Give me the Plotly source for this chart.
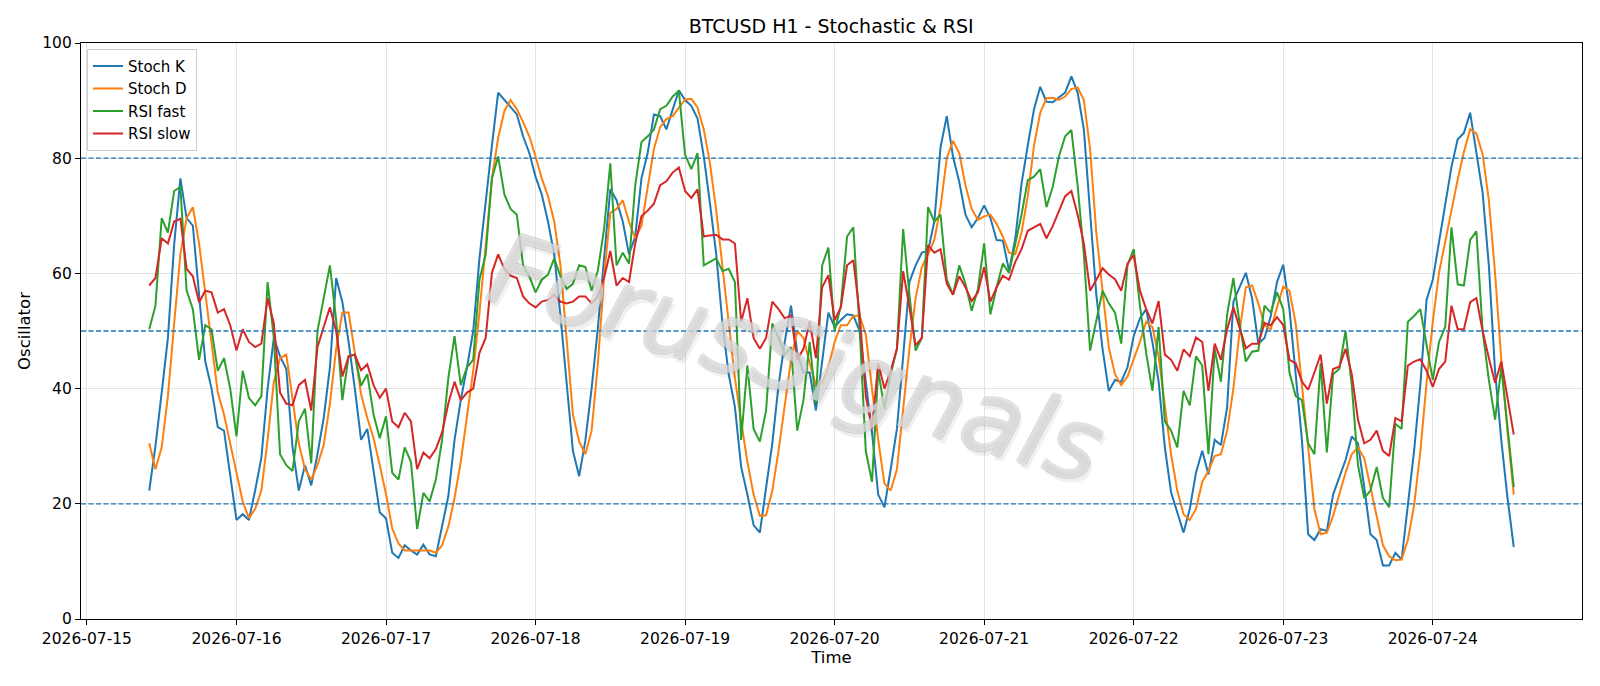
import pandas as pd
import plotly.graph_objects as go

start_time = "2026-07-15 10:00"

stoch_k = [
    22.3, 30, 39.3, 48.8, 65, 76.5, 69.6, 68.3, 56.3, 44.7,
    40, 33.3, 32.7, 24.8, 17.2, 18.2, 17.2, 22.3, 28, 40,
    48.8, 45.6, 43.4, 29.8, 22.3, 26.7, 23.2, 28.6, 34.9, 43.7,
    59.2, 55, 48.1, 40, 31.1, 33, 26, 18.5, 17.5, 11.5,
    10.6, 12.8, 11.9, 11.2, 12.9, 11.2, 10.9, 16, 21.3, 31.1,
    38, 43.7, 50, 62.6, 72.7, 82.2, 91.4, 90.1, 88.8, 87.6,
    83.8, 80.9, 76.8, 73.7, 69, 63.3, 52.6, 40.6, 29.2, 24.8,
    31, 40, 50.5, 62.6, 74.6, 72.7, 69, 63.3, 66.4, 76.5,
    80.9, 87.6, 87.3, 85, 88.2, 91.8, 90.1, 89.1, 86.9, 80.3,
    72.1, 63.3, 51.3, 42.5, 36.8, 26.4, 21.6, 16.3, 15, 22.9,
    30.5, 40.6, 48.1, 54.4, 46.2, 42.8, 42.8, 36.2, 44.5, 53.2,
    50.7, 51.9, 52.9, 52.7, 50, 41.2, 32.4, 21.6, 19.4, 26,
    33, 45.6, 58.5, 61.4, 63.6, 63.9, 69, 81.9, 87.3, 80.3,
    75.9, 70.2, 68, 69.6, 71.8, 69.6, 65.8, 65.7, 60.4, 66.1,
    75.6, 82.2, 88.5, 92.4, 89.8, 89.7, 90.6, 91.4, 94.2, 91.4,
    85, 70.2, 56.3, 46.9, 39.6, 41.5, 41.2, 43.7, 49.1, 52.2,
    53.8, 48.1, 41.2, 29.8, 22, 18.5, 15, 19.1, 25.4, 29.2,
    25.1, 31.1, 30.2, 36.8, 55.1, 57.6, 60.1, 55.7, 47.8, 48.8,
    52.6, 58.5, 61.5, 53.8, 42.5, 31.1, 14.7, 13.7, 15.6, 15.3,
    21.6, 24.8, 27.6, 31.7, 30.5, 22.9, 14.7, 13.7, 9.3, 9.3,
    11.5, 10.3, 19.7, 29.2, 40.6, 55.4, 58.9, 65.5, 72, 78.5,
    83.3, 84.4, 87.9, 81, 74, 61.4, 43, 31, 21, 12.5,
]

stoch_d = [
    30.5, 26, 29.8, 38.7, 51.3, 63.3, 69.6, 71.5, 65.2, 56.3,
    47.5, 39.3, 35.5, 30.5, 25.4, 20.4, 17.5, 19.1, 22.3, 31.1,
    41.2, 45.3, 45.9, 38, 30.5, 26, 24.2, 26.7, 30.2, 37.4,
    46.9, 53.2, 53.2, 46.2, 39, 34.9, 31.4, 26.7, 21.7, 15.7,
    13.1, 11.9, 11.9, 12, 12, 11.9, 11.5, 12.8, 16, 21,
    27.3, 34.9, 43.1, 53.2, 65.2, 76.5, 83.5, 88.2, 90.1, 88.5,
    86.3, 83.8, 80.3, 76.5, 73.4, 69, 61.4, 48.8, 35.5, 30.8,
    28.6, 32.7, 44.3, 59.5, 70.5, 71.2, 72.7, 69, 66.1, 68.3,
    75.3, 81.6, 85.4, 86.8, 87.3, 88.8, 90.2, 90.3, 88.8, 85,
    79.1, 70.9, 61.4, 51.9, 41.8, 34.3, 27.3, 21.6, 17.9, 18,
    22.3, 29.2, 37.4, 45, 50, 48.8, 44.4, 40.6, 41, 43.7,
    48.1, 51, 51, 52.6, 52.7, 49.4, 40, 31.1, 23.5, 22.3,
    26, 36.8, 46.9, 55.7, 61.1, 63.3, 65.8, 71.5, 80, 83,
    80.9, 75.3, 71.2, 69.3, 69.9, 70.2, 68.6, 66.4, 63.6, 63.3,
    67.1, 73.4, 82.2, 87.9, 90.4, 90.5, 90.1, 90.7, 92, 92.3,
    90.1, 81.6, 67.1, 57, 47.2, 42.5, 40.6, 42.1, 45, 48.1,
    51.6, 50.7, 45.6, 36.8, 28.6, 22.3, 18.2, 17.2, 19.1, 23.8,
    25.7, 28.3, 28.6, 32.7, 40, 50, 57.6, 57.9, 54.8, 51,
    50.3, 54.1, 57.7, 57, 51.3, 40.6, 29.8, 19.1, 14.7, 15,
    17.9, 21.6, 25.4, 28.6, 29.8, 27.9, 22.9, 17.9, 12.8, 10.9,
    10.2, 10.3, 13.7, 19.7, 29, 41, 51.6, 60.1, 65.2, 70.9,
    76.3, 81.1, 85, 84.3, 80.7, 72.7, 60, 45, 32.4, 21.6,
]

rsi_fast = [
    50.3, 54.4, 69.6, 67.1, 74.3, 75, 57, 53.8, 45, 51,
    50.3, 43.1, 45.3, 40, 31.7, 43.1, 38.4, 37.1, 38.7, 58.5,
    48.8, 28.6, 26.7, 25.7, 34.3, 36.5, 27, 50, 55.7, 61.4,
    51.9, 38, 45.6, 45.9, 40.5, 42.5, 35.5, 31.4, 35.2, 25.4,
    24.2, 29.8, 27.3, 15.6, 21.9, 20.4, 24.2, 31.1, 41.8, 49.1,
    40.6, 43.7, 45, 58.9, 63.3, 76.5, 80.3, 73.7, 71.2, 70.2,
    61.4, 59.5, 56.7, 58.9, 59.8, 62.6, 59.5, 57.3, 58.2, 61.4,
    61.1, 57, 60.5, 67.7, 79.1, 61.4, 63.6, 61.7, 75.3, 82.8,
    83.8, 85, 88.5, 89.1, 90.7, 91.7, 80.6, 78.1, 80.9, 61.4,
    62, 62.6, 60.4, 60.8, 58.5, 31.1, 44, 33, 30.8, 36.2,
    51.3, 48.8, 45.9, 47.2, 32.7, 38, 48.1, 37.4, 61.4, 64.5,
    50, 54.4, 66.4, 68, 50.7, 29.2, 23.8, 43.1, 36.5, 42.5,
    46.9, 67.7, 56.3, 46.6, 48.8, 71.5, 69, 70.2, 58.9, 56.3,
    61.4, 58.2, 53.5, 57.3, 65.2, 52.9, 57.6, 61.7, 60.1, 65.2,
    70.2, 76.2, 76.8, 78.1, 71.5, 75, 80.3, 83.8, 84.9, 75.3,
    63.3, 46.6, 51.9, 57, 54.8, 53.2, 47.8, 61.4, 64.2, 54.4,
    46.2, 39.6, 50.7, 34.3, 32.7, 29.8, 39.6, 37.1, 45.6, 44,
    28.6, 46.9, 41.2, 52.9, 59.2, 51.3, 44.7, 46.4, 46.6, 54.4,
    53.2, 56.7, 53.8, 42.8, 38.7, 38, 30.5, 28.6, 44.4, 28.9,
    42.5, 43.4, 50, 40.6, 26.7, 21, 22.3, 26.4, 21, 19.4,
    33.9, 33, 51.6, 52.6, 53.8, 47.5, 41.5, 48.1, 50.7, 68,
    58.1, 57.9, 65.8, 67.3, 50, 41.5, 34.6, 43.7, 33.6, 22.9,
]

rsi_slow = [
    57.9, 59.2, 66.1, 65.2, 69, 69.5, 60.8, 59.5, 55, 57,
    56.7, 53.2, 53.8, 51, 46.6, 50.3, 48.1, 47.2, 47.8, 55.7,
    51.3, 39.3, 37.4, 37.1, 40.6, 41.5, 36.2, 47.2, 50.7, 54.1,
    50, 42.1, 45.6, 45.9, 43.2, 44.2, 40.6, 38.4, 40, 34.3,
    33.3, 35.8, 34.3, 26, 28.9, 27.9, 29.5, 32.4, 37.4, 41.2,
    38, 39.3, 40, 46.2, 48.8, 60.1, 63.3, 60.8, 59.6, 59.2,
    56, 54.8, 54.1, 55.1, 55.4, 56.3, 55.1, 54.8, 55.1, 56,
    56, 54.8, 56, 59.2, 63.9, 57.9, 59.2, 58.5, 65.2, 69.9,
    70.9, 72.1, 75.3, 76, 77.5, 78.4, 74.3, 73.1, 74.6, 66.4,
    66.6, 66.7, 65.9, 65.9, 65.2, 51.6, 55.7, 48.8, 46.9, 48.8,
    55.1, 53.8, 52.2, 52.7, 45, 46.9, 51.6, 45.3, 57.6, 59.7,
    51.9, 54.1, 61.4, 62.3, 53.2, 38.7, 33, 44.4, 40, 43.1,
    46.9, 60.4, 54.1, 47.5, 48.8, 64.9, 63.6, 64.2, 58.2, 56.3,
    59.5, 57.6, 55.2, 56.7, 61.1, 55.1, 57.6, 59.6, 58.9, 62,
    64.2, 67.4, 68, 68.6, 66.1, 68.2, 70.8, 73.4, 74.3, 70.2,
    65.2, 57, 58.9, 60.9, 59.8, 59, 57, 61.7, 63.2, 57,
    53.8, 51.3, 55.2, 45.9, 45, 43.1, 46.8, 45.6, 48.9, 48.1,
    39.6, 47.8, 45, 50.3, 54.1, 50.7, 47, 47.8, 47.8, 51.4,
    51, 52.4, 51, 45, 44.4, 41.2, 39.8, 42.8, 45.9, 37.4,
    43.4, 43.8, 46.9, 42.5, 34.6, 30.5, 31.1, 32.7, 29.2, 28.3,
    34.9, 34.3, 44, 44.7, 45.1, 43.1, 40.3, 43.4, 44.7, 54.4,
    50.3, 50.3, 55, 55.7, 50, 45.3, 41, 44.7, 38.4, 32,
]

level_lines = [20, 50, 80]
series_names = ["Stoch K", "Stoch D", "RSI fast", "RSI slow"]
series_colors = ["#1f77b4", "#ff7f0e", "#2ca02c", "#d62728"]
watermark_text = "ForusSignals"

times = pd.date_range(start_time, periods=len(stoch_k), freq="h")
span = times[-1] - times[0]
x_range = [times[0] - 0.05 * span, times[-1] + 0.05 * span]

FONT = "DejaVu Sans"
fig = go.Figure()
for name, vals, col in zip(series_names, [stoch_k, stoch_d, rsi_fast, rsi_slow], series_colors):
    fig.add_trace(go.Scatter(x=times, y=vals, mode="lines", name=name,
                             line=dict(color=col, width=2)))

for lv in level_lines:
    fig.add_hline(y=lv, line=dict(color="#1f77b4", width=1.3, dash="5px,2.5px"), layer="above")

edge = "rgba(160,160,160,0.55)"
fig.add_annotation(
    text=watermark_text, xref="paper", yref="paper", x=0.477, y=0.452,
    showarrow=False, textangle=17,
    font=dict(family=FONT, size=100, color="rgba(255,255,255,0.45)", style="italic",
              shadow=f"-1px -1px 0 {edge}, 1px -1px 0 {edge}, -1px 1px 0 {edge}, 1px 1px 0 {edge}, 4px 4px 1px rgba(0,0,0,0.14)"),
)

axis_common = dict(
    showline=True, linecolor="black", linewidth=1.1, mirror=True,
    ticks="outside", ticklen=5, tickwidth=1, tickcolor="black",
    showgrid=True, gridcolor="#e3e3e3", gridwidth=1, zeroline=False,
    tickfont=dict(family=FONT, size=15.5, color="black"),
)

fig.update_xaxes(
    **axis_common, type="date", range=x_range,
    tick0="2026-07-15", dtick=86400000, tickformat="%Y-%m-%d",
    title=dict(text="Time", font=dict(family=FONT, size=16.5, color="black"), standoff=4),
)
fig.update_yaxes(
    **axis_common, range=[0, 100], tick0=0, dtick=20,
    title=dict(text="Oscillator", font=dict(family=FONT, size=16.5, color="black"), standoff=7),
)

fig.update_layout(
    width=1600, height=686,
    margin=dict(l=81, r=18, t=43, b=67),
    paper_bgcolor="white", plot_bgcolor="white",
    font=dict(family=FONT, color="black"),
    title=dict(text="BTCUSD H1 - Stochastic & RSI", x=0.5195, xanchor="center",
               y=1 - 26 / 686, yanchor="middle", yref="container",
               font=dict(family=FONT, size=19, color="black")),
    legend=dict(x=0.004, y=0.99, xanchor="left", yanchor="top",
                bgcolor="rgba(255,255,255,0.85)", bordercolor="#cccccc", borderwidth=1,
                font=dict(family=FONT, size=15, color="black"), tracegroupgap=0),
    showlegend=True,
)

fig.write_html("out.html")
